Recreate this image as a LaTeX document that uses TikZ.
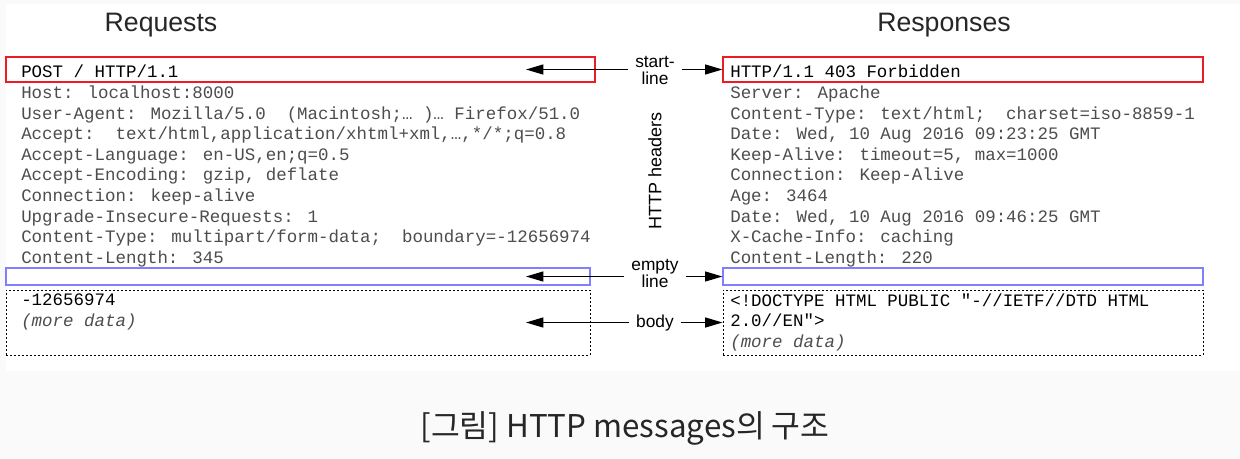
\documentclass[tikz,border=0pt]{standalone}
\usepackage{fontspec}
\setmainfont{Liberation Sans}
\newfontfamily\codefont{Liberation Mono}
\newfontfamily\krfont{Noto Sans CJK KR}
\usetikzlibrary{arrows.meta, positioning, fit}

\definecolor{pagegray}{HTML}{FAFAFA}
\definecolor{startred}{HTML}{ED1C24}
\definecolor{emptyblue}{HTML}{8080FF}
\definecolor{hdrgray}{HTML}{4D4D4D}
\definecolor{captiongray}{HTML}{262626}

\tikzset{
  codetext/.style={anchor=base west, inner sep=0pt, align=left, text=hdrgray,
    font=\codefont\fontsize{13.1}{15.47}\selectfont},
  partlabel/.style={inner xsep=5pt, inner ysep=1pt, align=center,
    font=\fontsize{13}{12.75}\selectfont},
  startbox/.style={draw=startred, line width=0.9pt, inner sep=0pt},
  emptybox/.style={draw=emptyblue, line width=0.9pt, inner sep=0pt},
  bodybox/.style={draw, line width=0.75pt, dash pattern=on 1.5pt off 1.5pt, inner sep=0pt},
  pointer/.style={-{Triangle[length=13pt, width=7.5pt]}, line width=0.9pt},
  title/.style={font=\fontsize{20}{24}\selectfont, text=black!85}
}

\begin{document}
\begin{tikzpicture}[x=0.75pt, y=-0.75pt]
  % page and picture area
  \fill[pagegray] (0,0) rectangle (1240,458);
  \fill[white] (6,4) rectangle (1240,371);

  \node[title] (reqtitle) at (161,25) {Requests};
  \node[title] (restitle) at (944,25) {Responses};

  % boxes round the parts of each message
  \node[startbox, fit={(6,57) (595,82)}] (reqstart) {};
  \node[emptybox, fit={(6,268) (590,285)}] (reqempty) {};
  \node[bodybox, fit={(6,290) (590,355)}] (reqbody) {};
  \node[startbox, fit={(723,57) (1203,82)}] (resstart) {};
  \node[emptybox, fit={(723,268) (1203,285)}] (resempty) {};
  \node[bodybox, fit={(723,290) (1203,355)}] (resbody) {};

  % request (base is the last line)
  \node[codetext] (reqtext) at (21,263.5) {\textcolor{black}{POST / HTTP/1.1}\\
    Host: localhost:8000\\
    User-Agent: Mozilla/5.0\ \ (Macintosh;… )… Firefox/51.0\\
    Accept:\ \ text/html,application/xhtml+xml,…,*/*;q=0.8\\
    Accept-Language: en-US,en;q=0.5\\
    Accept-Encoding: gzip, deflate\\
    Connection: keep-alive\\
    Upgrade-Insecure-Requests: 1\\
    Content-Type: multipart/form-data;\ \ boundary=-12656974\\
    Content-Length: 345};
  \node[codetext, text=black] (reqdata) at (21,326.5) {-12656974\\
    \textcolor{hdrgray}{\itshape (more data)}};

  % response
  \node[codetext] (restext) at (730,263.5) {\textcolor{black}{HTTP/1.1 403 Forbidden}\\
    Server: Apache\\
    Content-Type: text/html;\ \ charset=iso-8859-1\\
    Date: Wed, 10 Aug 2016 09:23:25 GMT\\
    Keep-Alive: timeout=5, max=1000\\
    Connection: Keep-Alive\\
    Age: 3464\\
    Date: Wed, 10 Aug 2016 09:46:25 GMT\\
    X-Cache-Info: caching\\
    Content-Length: 220};
  \node[codetext, text=black] (resdata) at (730,347.5) {<!DOCTYPE HTML PUBLIC "-//IETF//DTD HTML\\
    2.0//EN">\\
    \textcolor{hdrgray}{\itshape (more data)}};

  % labels in the middle
  \node[partlabel] (startlbl) at (655,70.5) {start-\\line};
  \node[rotate=90, font=\fontsize{13.5}{16}\selectfont] (hdrlbl) at (655,171) {HTTP headers};
  \node[partlabel] (emptylbl) at (655,273) {empty\\line};
  \node[partlabel] (bodylbl) at (655,323) {body};

  \coordinate (reqtip) at (526,0);
  \draw[pointer] (reqstart.center -| startlbl.west) -- (reqstart.center -| reqtip);
  \draw[pointer] (resstart.center -| startlbl.east) -- (resstart.west);
  \draw[pointer] (reqempty.center -| emptylbl.west) -- (reqempty.center -| reqtip);
  \draw[pointer] (resempty.center -| emptylbl.east) -- (resempty.west);
  \draw[pointer] (reqbody.center -| bodylbl.west) -- (reqbody.center -| reqtip);
  \draw[pointer] (resbody.center -| bodylbl.east) -- (resbody.west);

  \node[font=\krfont\fontsize{23.5}{28}\selectfont, text=captiongray] (caption) at (625,428) {[그림] HTTP messages의 구조};
\end{tikzpicture}
\end{document}
